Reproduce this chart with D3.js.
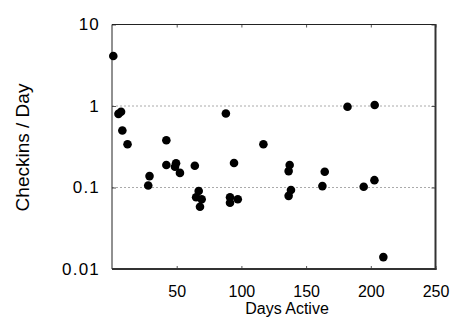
<!DOCTYPE html>
<html>
<head>
<meta charset="utf-8">
<script src="https://cdn.jsdelivr.net/npm/d3@7"></script>
<style>
  body { margin: 0; background: #fff; }
  svg { display: block; }
  text { font-family: "Liberation Sans", Arial, Helvetica, sans-serif; fill: #000; }
</style>
</head>
<body>
<svg id="chart" width="470" height="330"></svg>
<script>
const days = [1, 5, 7, 8, 12, 42, 88, 117, 182, 203,
  28, 29, 42, 49.5, 48.7, 52.5, 64, 67, 65, 69.3, 68,
  94.3, 91.2, 91.2, 97.2,
  137.3, 136.5, 138.3, 136.5, 164.4, 162.6, 194.5, 202.8, 209.7];
const checkins = [4.1, 0.80, 0.85, 0.50, 0.34, 0.38, 0.81, 0.34, 0.98, 1.03,
  0.106, 0.138, 0.189, 0.198, 0.18, 0.151, 0.185, 0.0906, 0.0758, 0.0716, 0.058,
  0.20, 0.076, 0.065, 0.0716,
  0.189, 0.159, 0.093, 0.079, 0.156, 0.104, 0.102, 0.123, 0.014];
const xTicks = [50, 100, 150, 200, 250];
const yTicks = [0.01, 0.1, 1, 10];
const yTickLabels = ["0.01", "0.1", "1", "10"];
const gridValues = [0.1, 1];
const xTitle = "Days Active";
const yTitle = "Checkins / Day";

const L = 112, R = 435.5, T = 24.5, B = 269;
const svg = d3.select("#chart");
const x = d3.scaleLinear().domain([0, 250]).range([L, R]);
const y = d3.scaleLog().domain([0.01, 10]).range([B, T]);

// grid
svg.append("g").selectAll("line").data(gridValues).join("line")
  .attr("x1", L).attr("x2", R)
  .attr("y1", d => y(d)).attr("y2", d => y(d))
  .attr("stroke", "#aaa").attr("stroke-width", 1)
  .attr("stroke-dasharray", "2,2");

// bottom axis
const xb = svg.append("g").attr("transform", `translate(0,${B})`)
  .call(d3.axisBottom(x).tickValues(xTicks).tickSize(-3).tickPadding(17).tickFormat(d3.format("d")));
// top axis ticks
const xt = svg.append("g").attr("transform", `translate(0,${T})`)
  .call(d3.axisTop(x).tickValues(xTicks).tickSize(-3).tickFormat(""));
// left axis
const yl = svg.append("g").attr("transform", `translate(${L},0)`)
  .call(d3.axisLeft(y).tickValues(yTicks).tickSize(-4).tickPadding(12)
    .tickFormat((d, i) => yTickLabels[i]));
// right axis ticks
const yr = svg.append("g").attr("transform", `translate(${R},0)`)
  .call(d3.axisRight(y).tickValues(yTicks).tickSize(-4).tickFormat(""));

[xb, xt, yl, yr].forEach(g => {
  g.select(".domain").remove();
  g.selectAll(".tick line").attr("stroke", "#555").attr("stroke-width", 1);
  g.selectAll(".tick text").style("font-size", "16px")
    .style("font-family", "'Liberation Sans', Arial, sans-serif").attr("fill", "#000");
});
yl.selectAll(".tick text").style("font-size", "17px").style("letter-spacing", "1.2px");

// borders
svg.append("line").attr("x1", L).attr("x2", R).attr("y1", T).attr("y2", T)
  .attr("stroke", "#222").attr("stroke-width", 1);
svg.append("line").attr("x1", L).attr("x2", L).attr("y1", T).attr("y2", B)
  .attr("stroke", "#222").attr("stroke-width", 1);
svg.append("line").attr("x1", R).attr("x2", R).attr("y1", T - 0.5).attr("y2", B + 1)
  .attr("stroke", "#333").attr("stroke-width", 2);
svg.append("line").attr("x1", L).attr("x2", R + 1).attr("y1", B).attr("y2", B)
  .attr("stroke", "#333").attr("stroke-width", 2);

// points
svg.append("g").selectAll("circle").data(days).join("circle")
  .attr("cx", d => x(d))
  .attr("cy", (d, i) => y(checkins[i]))
  .attr("r", 4.3)
  .attr("fill", "#000");

// titles
svg.append("text").attr("x", 287).attr("y", 313.5)
  .attr("text-anchor", "middle").style("font-size", "16px").text(xTitle);
svg.append("text")
  .attr("transform", `translate(29,147.5) rotate(-90)`)
  .attr("text-anchor", "middle").style("font-size", "19px").text(yTitle);
</script>
</body>
</html>
